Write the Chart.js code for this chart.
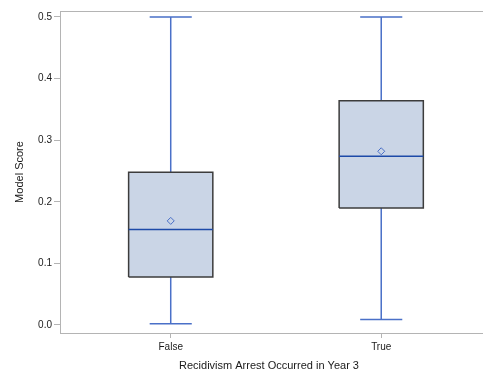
<!DOCTYPE html>
<html>
<head>
<meta charset="utf-8">
<script src="https://cdn.jsdelivr.net/npm/chart.js@4.4.1/dist/chart.umd.min.js"></script>
<style>
  html, body { margin: 0; padding: 0; background: #ffffff; }
  #wrap { width: 483px; height: 371px; }
</style>
</head>
<body>
<div id="wrap"><canvas id="c" width="483" height="371"></canvas></div>
<script>
// Model score distribution by recidivism outcome
const categories = ['False', 'True'];
const whiskerLow = [0.002, 0.009];
const q1Values = [0.078, 0.190];
const medians = [0.155, 0.274];
const q3Values = [0.248, 0.364];
const whiskerHigh = [0.500, 0.500];
const means = [0.169, 0.282];
const yTicks = [0.0, 0.1, 0.2, 0.3, 0.4, 0.5];

const BOX_HALF = 0.2;   // half box width in category units
const CAP_HALF = 0.1;   // half whisker-cap width in category units

const boxFill = '#cad5e6';
const boxEdge = '#3c3c3c';
const whiskerColor = '#4a70c8';
const medianColor = '#1d4aa8';
const frameColor = '#b4b4b4';
const textColor = '#1a1a1a';
const FONT = "'Liberation Sans', Arial, sans-serif";

const gap = (x) => ({ x: x, y: null });

const datasets = [];
categories.forEach((cat, i) => {
  // whiskers and caps
  datasets.push({
    type: 'line',
    data: [
      { x: i - CAP_HALF, y: whiskerHigh[i] }, { x: i + CAP_HALF, y: whiskerHigh[i] }, gap(i),
      { x: i, y: whiskerHigh[i] }, { x: i, y: q3Values[i] }, gap(i),
      { x: i, y: q1Values[i] }, { x: i, y: whiskerLow[i] }, gap(i),
      { x: i - CAP_HALF, y: whiskerLow[i] }, { x: i + CAP_HALF, y: whiskerLow[i] }
    ],
    borderColor: whiskerColor,
    borderWidth: 1.5,
    pointRadius: 0,
    spanGaps: false,
    fill: false,
    order: 4
  });
  // interquartile box
  datasets.push({
    type: 'line',
    data: [
      { x: i - BOX_HALF, y: q1Values[i] }, { x: i + BOX_HALF, y: q1Values[i] },
      { x: i + BOX_HALF, y: q3Values[i] }, { x: i - BOX_HALF, y: q3Values[i] },
      { x: i - BOX_HALF, y: q1Values[i] }
    ],
    borderColor: boxEdge,
    borderWidth: 1.5,
    backgroundColor: boxFill,
    fill: 'shape',
    pointRadius: 0,
    order: 3
  });
  // median
  datasets.push({
    type: 'line',
    data: [{ x: i - BOX_HALF, y: medians[i] }, { x: i + BOX_HALF, y: medians[i] }],
    borderColor: medianColor,
    borderWidth: 1.5,
    pointRadius: 0,
    fill: false,
    order: 2
  });
});
// means
datasets.push({
  type: 'scatter',
  data: categories.map((c, i) => ({ x: i, y: means[i] })),
  pointStyle: 'rectRot',
  pointRadius: 3.5,
  borderColor: whiskerColor,
  backgroundColor: 'rgba(0,0,0,0)',
  borderWidth: 1,
  order: 1
});

// plot frame: top edge and bottom axis line run to the right edge of the canvas
const framePlugin = {
  id: 'frame',
  afterDatasetsDraw(chart) {
    const { ctx, chartArea } = chart;
    ctx.save();
    ctx.strokeStyle = frameColor;
    ctx.lineWidth = 1;
    ctx.beginPath();
    ctx.moveTo(chartArea.left, chartArea.top + 0.5);
    ctx.lineTo(chart.width, chartArea.top + 0.5);
    ctx.moveTo(chartArea.left, chartArea.bottom + 0.5);
    ctx.lineTo(chart.width, chartArea.bottom + 0.5);
    ctx.stroke();
    ctx.restore();
  }
};

new Chart(document.getElementById('c'), {
  type: 'line',
  data: { datasets },
  plugins: [framePlugin],
  options: {
    responsive: false,
    animation: false,
    events: [],
    layout: { padding: { top: 11, right: 0, bottom: 0, left: 0 } },
    plugins: { legend: { display: false }, tooltip: { enabled: false } },
    scales: {
      x: {
        type: 'linear',
        min: -0.526,
        max: 1.4597,
        afterBuildTicks: (scale) => { scale.ticks = categories.map((c, i) => ({ value: i })); },
        afterFit: (scale) => { scale.height = 38; },
        ticks: {
          callback: (v) => categories[v],
          color: textColor,
          font: { family: FONT, size: 10 },
          padding: 3,
          maxRotation: 0
        },
        grid: { drawOnChartArea: false, drawTicks: true, tickLength: 5, color: frameColor },
        border: { display: true, color: frameColor, width: 1 },
        title: {
          display: true,
          text: 'Recidivism Arrest Occurred in Year 3',
          color: textColor,
          font: { family: FONT, size: 11 },
          padding: { top: 0, bottom: -2 }
        }
      },
      y: {
        type: 'linear',
        min: -0.013,
        max: 0.5097,
        afterBuildTicks: (scale) => { scale.ticks = yTicks.map(v => ({ value: v })); },
        afterFit: (scale) => { scale.width = 60; },
        ticks: {
          callback: (v) => Number(v).toFixed(1),
          color: textColor,
          font: { family: FONT, size: 10 },
          padding: 2
        },
        grid: { drawOnChartArea: false, drawTicks: true, tickLength: 6, color: frameColor },
        border: { display: true, color: frameColor, width: 1 },
        title: {
          display: true,
          text: 'Model Score',
          color: textColor,
          font: { family: FONT, size: 11 },
          padding: { top: 13, bottom: 0 }
        }
      }
    }
  }
});
</script>
</body>
</html>
